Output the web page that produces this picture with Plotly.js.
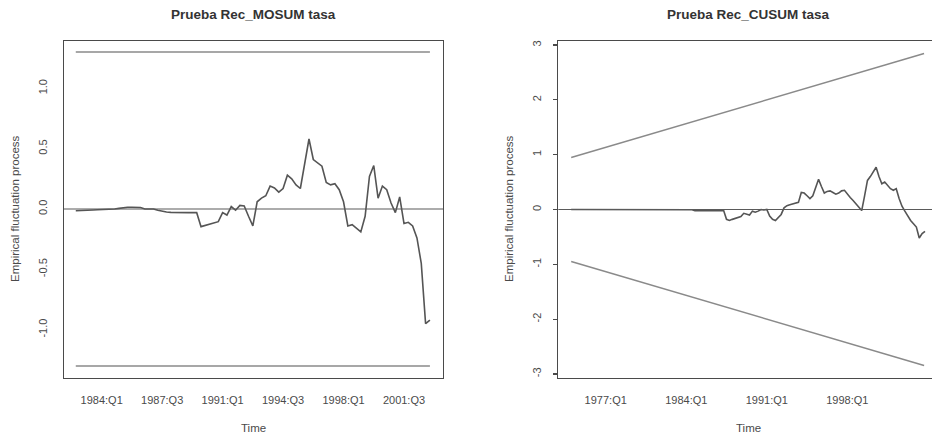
<!DOCTYPE html>
<html>
<head>
<meta charset="utf-8">
<script src="https://cdn.plot.ly/plotly-3.0.1.min.js"></script>
<style>
html,body{margin:0;padding:0;background:#fff;overflow:hidden;width:932px;height:441px;}
#chart{width:990px;height:441px;}
</style>
</head>
<body>
<div id="chart"></div>
<script>
// ---------- Left panel: Rec-MOSUM ----------
const mosumStart = 1982.5;          // first quarter (1982:Q3)
const mosumValues = [
  -0.014,-0.014,-0.012,-0.010,-0.008,-0.006,-0.005,-0.005,0.000,0.000,
  0.005,0.012,0.015,0.015,0.014,0.012,0.000,0.000,0.000,-0.010,
  -0.020,-0.025,-0.028,-0.030,-0.030,-0.030,-0.030,-0.030,-0.030,-0.146,
  -0.135,-0.125,-0.115,-0.105,-0.030,-0.050,0.020,-0.010,0.030,0.025,
  -0.060,-0.140,0.060,0.090,0.110,0.190,0.175,0.140,0.170,0.280,
  0.250,0.200,0.170,0.380,0.580,0.410,0.385,0.355,0.220,0.200,
  0.210,0.160,0.060,-0.140,-0.130,-0.160,-0.190,-0.060,0.270,0.360,
  0.090,0.190,0.160,0.050,-0.030,0.100,-0.120,-0.110,-0.140,-0.240,
  -0.450,-0.950,-0.920
];
const mosumBoundX = [1982.5, 2003.0];
const mosumBoundUpper = [1.3, 1.3];
const mosumBoundLower = [-1.3, -1.3];
const mosumTickVals = [1984.0, 1987.5, 1991.0, 1994.5, 1998.0, 2001.5];
const mosumTickText = ["1984:Q1","1987:Q3","1991:Q1","1994:Q3","1998:Q1","2001:Q3"];
const mosumYTicks = [-1.0,-0.5,0.0,0.5,1.0];
const mosumYText = ["-1.0","-0.5","0.0","0.5","1.0"];

// ---------- Right panel: Rec-CUSUM ----------
const cusumStart = 1974.0;          // first quarter (1974:Q1)
const cusumValues = [
  0,0,0,0,0,0,0,0,0,0,0,0,
  -0.005,-0.005,-0.005,-0.005,-0.005,-0.005,-0.005,-0.005,-0.005,-0.005,-0.005,-0.005,-0.005,-0.005,
  0,0,0,0,0,0,0,0,0,0,0,
  -0.005,-0.005,-0.005,-0.005,-0.005,-0.005,
  -0.02,-0.02,-0.02,-0.02,-0.02,-0.02,-0.02,-0.02,-0.02,-0.02,-0.02,
  -0.18,-0.20,-0.18,-0.165,-0.15,-0.13,-0.07,-0.08,-0.10,-0.03,
  -0.05,-0.03,0.00,-0.01,0.00,-0.12,-0.18,-0.20,-0.14,-0.09,
  0.03,0.07,0.085,0.10,0.115,0.13,0.31,0.30,0.25,0.20,
  0.25,0.42,0.55,0.42,0.30,0.33,0.34,0.31,0.28,0.30,
  0.34,0.35,0.28,0.22,0.165,0.10,0.03,-0.02,0.25,0.53,
  0.60,0.68,0.77,0.60,0.47,0.50,0.44,0.38,0.35,0.38,
  0.20,0.06,-0.03,-0.12,-0.20,-0.26,-0.32,-0.52,-0.44,-0.40
];
const cusumBoundX = [1974.0, 2004.67];
const cusumBoundUpper = [0.948, 2.844];
const cusumBoundLower = [-0.948, -2.844];
const cusumTickVals = [1977.0, 1984.0, 1991.0, 1998.0];
const cusumTickText = ["1977:Q1","1984:Q1","1991:Q1","1998:Q1"];
const cusumYTicks = [-3,-2,-1,0,1,2,3];
const cusumYText = ["-3","-2","-1","0","1","2","3"];

const quarters = (start, n) => Array.from({length:n}, (_, i) => start + 0.25*i);

const W = 990, H = 441;
const boundColor = '#8a8a8a', seriesColor = '#555555', boxColor = '#4a4a4a', textColor = '#4a4a4a';
const FONT = 'Liberation Sans, Arial, sans-serif';

const traces = [
  {x: mosumBoundX, y: mosumBoundUpper, xaxis:'x', yaxis:'y', mode:'lines', line:{color:boundColor,width:1.5}, hoverinfo:'skip'},
  {x: mosumBoundX, y: mosumBoundLower, xaxis:'x', yaxis:'y', mode:'lines', line:{color:boundColor,width:1.5}, hoverinfo:'skip'},
  {x: quarters(mosumStart, mosumValues.length), y: mosumValues, xaxis:'x', yaxis:'y', mode:'lines', line:{color:seriesColor,width:1.6}},
  {x: cusumBoundX, y: cusumBoundUpper, xaxis:'x2', yaxis:'y2', mode:'lines', line:{color:boundColor,width:1.5}, hoverinfo:'skip'},
  {x: cusumBoundX, y: cusumBoundLower, xaxis:'x2', yaxis:'y2', mode:'lines', line:{color:boundColor,width:1.5}, hoverinfo:'skip'},
  {x: quarters(cusumStart, cusumValues.length), y: cusumValues, xaxis:'x2', yaxis:'y2', mode:'lines', line:{color:seriesColor,width:1.6}}
];

const yDom = [1 - 378/H, 1 - 41/H];
const axBase = {showgrid:false, zeroline:false, showline:true, mirror:true, linecolor:boxColor, linewidth:1.3,
  tickfont:{family:FONT,size:11,color:textColor}, fixedrange:true};

const layout = {
  width: W, height: H,
  margin:{l:0,r:0,t:0,b:0},
  paper_bgcolor:'#fff', plot_bgcolor:'#fff',
  showlegend:false,
  xaxis: Object.assign({}, axBase, {domain:[64/W, 443/W], anchor:'y', range:[1981.818, 2003.758],
    tickmode:'array', tickvals:mosumTickVals, ticktext:mosumTickText, ticks:'', ticklabelstandoff:11}),
  yaxis: Object.assign({}, axBase, {domain:yDom, anchor:'x', range:[-1.400, 1.392],
    tickmode:'array', tickvals:mosumYTicks, ticktext:mosumYText, ticks:'', tickangle:-90, ticklabelstandoff:11}),
  xaxis2: Object.assign({}, axBase, {domain:[558.3/W, 938/W], anchor:'y2', range:[1972.88, 2005.88],
    tickmode:'array', tickvals:cusumTickVals, ticktext:cusumTickText, ticks:'', ticklabelstandoff:11}),
  yaxis2: Object.assign({}, axBase, {domain:yDom, anchor:'x2', range:[-3.073, 3.073],
    tickmode:'array', tickvals:cusumYTicks, ticktext:cusumYText, ticks:'outside', ticklen:4, tickcolor:boxColor, tickwidth:1.2, tickangle:-90, ticklabelstandoff:8}),
  shapes:[
    {type:'line', xref:'x domain', yref:'y', x0:0, x1:1, y0:0, y1:0, line:{color:'#5a5a5a',width:1.2}},
    {type:'line', xref:'x2 domain', yref:'y2', x0:0, x1:1, y0:0, y1:0, line:{color:'#5a5a5a',width:1.2}}
  ],
  annotations:[
    {text:'<b>Prueba Rec_MOSUM tasa</b>', xref:'paper', yref:'paper', x:253.5/W, y:1-14/H, xanchor:'center', yanchor:'middle', showarrow:false, font:{family:FONT,size:13.5,color:'#333'}},
    {text:'<b>Prueba Rec_CUSUM tasa</b>', xref:'paper', yref:'paper', x:748/W, y:1-14/H, xanchor:'center', yanchor:'middle', showarrow:false, font:{family:FONT,size:13.5,color:'#333'}},
    {text:'Time', xref:'paper', yref:'paper', x:253.5/W, y:1-428/H, xanchor:'center', yanchor:'middle', showarrow:false, font:{family:FONT,size:11.5,color:textColor}},
    {text:'Time', xref:'paper', yref:'paper', x:748/W, y:1-428/H, xanchor:'center', yanchor:'middle', showarrow:false, font:{family:FONT,size:11.5,color:textColor}},
    {text:'Empirical fluctuation process', xref:'paper', yref:'paper', x:15/W, y:1-209/H, xanchor:'center', yanchor:'middle', textangle:-90, showarrow:false, font:{family:FONT,size:11.5,color:textColor}},
    {text:'Empirical fluctuation process', xref:'paper', yref:'paper', x:509/W, y:1-209/H, xanchor:'center', yanchor:'middle', textangle:-90, showarrow:false, font:{family:FONT,size:11.5,color:textColor}}
  ]
};

Plotly.newPlot('chart', traces, layout, {staticPlot:true, displayModeBar:false});
</script>
</body>
</html>
